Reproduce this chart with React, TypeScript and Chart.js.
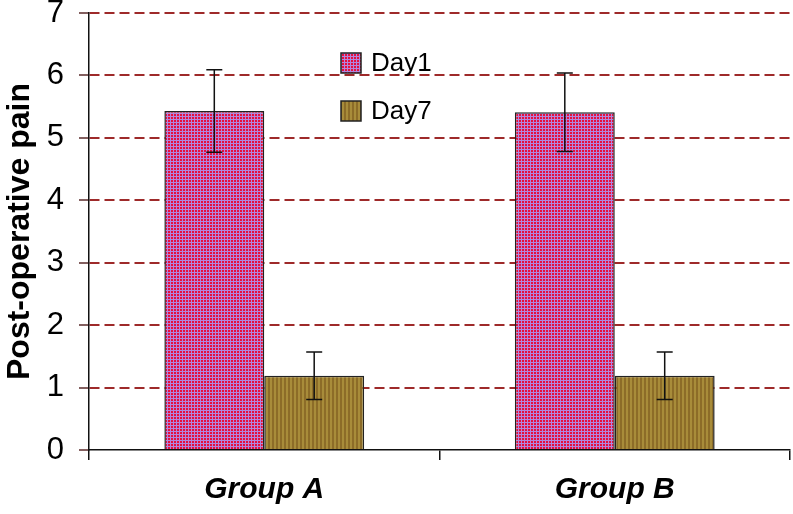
import React, { useEffect, useRef } from 'react';
import { Chart, registerables } from 'chart.js';

Chart.register(...registerables);

const categories = ['Group A', 'Group B'];
const seriesNames = ['Day1', 'Day7'];
const day1Values = [5.43, 5.41];
const day1Errors = [0.66, 0.63];
const day7Values = [1.19, 1.19];
const day7Errors = [0.38, 0.38];
const yMin = 0;
const yMax = 7;
const yStep = 1;

const FONT = "'Liberation Sans', Arial, sans-serif";

function dotTile(): HTMLCanvasElement {
  const c = document.createElement('canvas');
  c.width = 3;
  c.height = 3;
  const g = c.getContext('2d')!;
  g.fillStyle = '#b286de';
  g.fillRect(0, 0, 3, 3);
  g.fillStyle = '#e5103e';
  g.fillRect(0, 0, 2, 2);
  return c;
}

function stripeTile(): HTMLCanvasElement {
  const c = document.createElement('canvas');
  c.width = 4;
  c.height = 4;
  const g = c.getContext('2d')!;
  g.fillStyle = '#8c6c28';
  g.fillRect(0, 0, 4, 4);
  g.fillStyle = '#a88c3a';
  g.fillRect(2, 0, 2, 4);
  return c;
}

const errorBarPlugin = {
  id: 'errorBars',
  afterDatasetsDraw(chart: any) {
    const ctx = chart.ctx;
    const y = chart.scales.y;
    chart.data.datasets.forEach((ds: any, i: number) => {
      const meta = chart.getDatasetMeta(i);
      meta.data.forEach((bar: any, j: number) => {
        const v = ds.data[j] as number;
        const e = ds.errors[j] as number;
        const yt = y.getPixelForValue(v + e);
        const yb = y.getPixelForValue(v - e);
        const x = bar.x;
        ctx.save();
        ctx.strokeStyle = '#111';
        ctx.lineWidth = 1.5;
        ctx.beginPath();
        ctx.moveTo(x, yt);
        ctx.lineTo(x, yb);
        ctx.moveTo(x - 8, yt);
        ctx.lineTo(x + 8, yt);
        ctx.moveTo(x - 8, yb);
        ctx.lineTo(x + 8, yb);
        ctx.stroke();
        ctx.restore();
      });
    });
  },
};

const legendPlugin = {
  id: 'insideLegend',
  afterDraw(chart: any, _args: any, opts: any) {
    const ctx = chart.ctx;
    const x0 = opts.x;
    let yy = opts.y;
    chart.data.datasets.forEach((ds: any) => {
      ctx.save();
      ctx.fillStyle = ds.backgroundColor;
      ctx.fillRect(x0, yy, 20, 20);
      ctx.strokeStyle = '#222';
      ctx.lineWidth = 1.5;
      ctx.strokeRect(x0, yy, 20, 20);
      ctx.fillStyle = '#000';
      ctx.font = `26px ${FONT}`;
      ctx.textBaseline = 'middle';
      ctx.textAlign = 'left';
      ctx.fillText(ds.label, x0 + 30, yy + 11);
      ctx.restore();
      yy += opts.spacing;
    });
  },
};

export default function App() {
  const ref = useRef<HTMLCanvasElement>(null);

  useEffect(() => {
    const canvas = ref.current!;
    const ctx = canvas.getContext('2d')!;
    const p1 = ctx.createPattern(dotTile(), 'repeat');
    const p7 = ctx.createPattern(stripeTile(), 'repeat');

    const chart = new Chart(canvas, {
      type: 'bar',
      data: {
        labels: categories,
        datasets: [
          {
            label: seriesNames[0],
            data: day1Values,
            errors: day1Errors,
            backgroundColor: p1 as any,
            borderColor: '#222',
            borderWidth: 1.5,
            categoryPercentage: 0.57,
            barPercentage: 1,
          } as any,
          {
            label: seriesNames[1],
            data: day7Values,
            errors: day7Errors,
            backgroundColor: p7 as any,
            borderColor: '#222',
            borderWidth: 1.5,
            categoryPercentage: 0.57,
            barPercentage: 1,
          } as any,
        ],
      },
      options: {
        animation: false,
        responsive: false,
        maintainAspectRatio: false,
        layout: { autoPadding: false, padding: { top: 13, right: 3, left: 0, bottom: 0 } },
        plugins: {
          legend: { display: false },
          tooltip: { enabled: false },
          insideLegend: { x: 341, y: 53, spacing: 48 },
        } as any,
        scales: {
          x: {
            afterFit: (s: any) => {
              s.height = 64;
              s.paddingLeft = 0;
              s.paddingRight = 0;
              s.paddingTop = 0;
              s.paddingBottom = 0;
            },
            grid: {
              display: true,
              drawOnChartArea: false,
              offset: true,
              tickLength: 10,
              color: '#111',
              lineWidth: 1.5,
            },
            border: { color: '#111', width: 1.5 },
            ticks: {
              color: '#000',
              font: { family: FONT, size: 30, weight: 'bold', style: 'italic' },
              padding: 12,
            },
          },
          y: {
            min: yMin,
            max: yMax,
            afterFit: (s: any) => {
              s.width = 89;
              s.paddingTop = 0;
              s.paddingBottom = 0;
            },
            grid: {
              color: (c: any) => (c.tick && c.tick.value === 0 ? 'rgba(0,0,0,0)' : '#9e2a2a'),
              lineWidth: 2,
              tickLength: 10,
              tickColor: '#5a2a2a',
              tickWidth: 1.5,
            },
            border: { color: '#111', width: 1.5, dash: [10, 5] },
            ticks: {
              stepSize: yStep,
              color: '#000',
              font: { family: FONT, size: 31 },
              padding: 15,
            },
            title: {
              display: true,
              text: 'Post-operative pain',
              color: '#000',
              font: { family: FONT, size: 32, weight: 'bold' },
              padding: { top: 1, bottom: 0 },
            },
          },
        },
      } as any,
      plugins: [errorBarPlugin, legendPlugin],
    });
    return () => chart.destroy();
  }, []);

  return (
    <div style={{ position: 'fixed', left: 0, top: 0, width: 793, height: 514, background: '#fff' }}>
      <canvas ref={ref} width={793} height={514} style={{ width: 793, height: 514 }} />
    </div>
  );
}
